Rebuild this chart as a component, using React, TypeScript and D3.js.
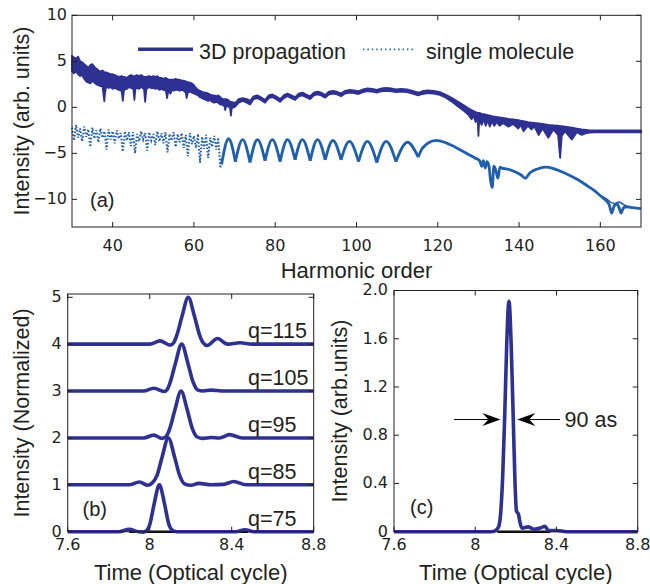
import React from "react";
import * as d3 from "d3";

const W = 650;
const H = 584;
const FONT = "'Liberation Sans', Arial, Helvetica, sans-serif";
const TICKFONT = "'DejaVu Sans', 'Liberation Sans', sans-serif";
const INK = "#231f20";
const DARK = "#2e3192";
const MID = "#1f5fad";

// ---------- Panel (a) data ----------
const aXTicks = [40, 60, 80, 100, 120, 140, 160];
const aYTicks = [-10, -5, 0, 5, 10];

// 3D propagation: [harmonic, upper envelope, lower envelope]
const prop3d: [number, number, number][] = [
  [30, 5.6, 3.9], [30.5, 5.4, 3.7], [31, 5.3, 3.9], [31.5, 5.5, 3.6], [32, 5.0, 3.4],
  [32.5, 4.9, 3.5], [33, 4.7, 3.1], [33.5, 4.5, 2.8], [34, 4.3, 2.7], [34.5, 4.6, 2.6],
  [35, 4.7, 2.9], [35.5, 4.4, 2.7], [36, 4.2, 2.5], [36.5, 4.0, 2.4], [37, 3.9, 2.3],
  [37.5, 4.0, 2.3], [37.8, 3.9, 1.2], [37.95, 3.8, 0.65], [38.1, 3.8, 1.4], [38.4, 3.8, 2.3],
  [39, 3.7, 2.1], [39.5, 3.6, 2.2], [40, 3.6, 2.0], [40.5, 3.5, 2.1], [41, 3.4, 2.0],
  [41.5, 3.3, 1.9], [42.2, 3.4, 1.8], [42.5, 3.3, 0.7], [42.8, 3.3, 1.9], [43.5, 3.2, 2.0],
  [44, 3.4, 2.2], [44.5, 3.5, 2.1], [45.1, 3.4, 2.0], [45.35, 3.4, 0.8], [45.6, 3.4, 2.0],
  [46, 3.5, 2.1], [46.5, 3.4, 2.0], [47, 3.5, 2.2], [47.7, 3.3, 2.0], [48, 3.3, 0.6],
  [48.3, 3.3, 2.0], [49, 3.4, 2.2], [49.5, 3.3, 2.1], [50, 3.4, 2.1], [50.5, 3.3, 2.0],
  [51, 3.4, 2.1], [51.5, 3.2, 1.9], [52, 3.2, 2.0], [52.5, 3.1, 1.9], [53.1, 3.2, 1.8],
  [53.4, 3.1, 1.0], [53.7, 3.0, 1.8], [54.2, 3.0, 1.5], [54.6, 3.0, 1.9], [55, 3.0, 1.8],
  [55.5, 3.1, 1.9], [56, 3.0, 1.9], [56.5, 3.0, 1.8], [57, 2.9, 1.9], [57.5, 2.9, 1.8],
  [58, 2.8, 1.6], [58.2, 2.8, 1.0], [58.5, 2.7, 1.6], [59, 2.7, 1.7], [59.5, 2.6, 1.6],
  [60, 2.4, 1.5], [60.5, 2.1, 1.4], [61, 1.9, 1.3], [61.5, 1.8, 1.1], [62, 1.7, 1.0],
  [62.5, 1.6, 0.9], [63, 1.6, 0.8], [63.5, 1.5, 0.7], [64, 1.4, 0.8], [64.5, 1.3, 0.6],
  [65, 1.3, 0.5], [65.5, 1.2, 0.6], [66, 1.3, 0.5], [66.5, 1.1, 0.3], [67, 0.9, 0.3],
  [67.5, 0.9, 0.1], [67.7, 0.9, -0.3], [67.9, 0.9, 0.1], [68.5, 0.8, 0.1], [68.9, 0.6, -0.1],
  [69.1, 0.6, -0.9], [69.3, 0.6, -0.1], [69.8, 0.5, 0.0], [70.2, 0.5, 0.1], [71, 0.9, 0.5],
  [72, 1.0, 0.7], [73, 0.9, 0.5], [73.8, 0.7, 0.3], [74.7, 1.2, 0.9], [75.6, 1.3, 1.0],
  [76.5, 1.1, 0.8], [77.5, 0.8, 0.5], [78.4, 1.3, 1.0], [79.3, 1.4, 1.1], [80.2, 1.2, 0.9],
  [81.2, 0.9, 0.6], [82.1, 1.3, 1.0], [83, 1.5, 1.2], [84, 1.3, 1.0], [84.9, 1.1, 0.8],
  [85.8, 1.5, 1.2], [86.7, 1.6, 1.3], [87.6, 1.4, 1.1], [88.6, 1.2, 0.9], [89.5, 1.6, 1.3],
  [90.4, 1.7, 1.4], [91.3, 1.6, 1.3], [92.3, 1.35, 1.05], [93.2, 1.7, 1.4], [94.2, 1.8, 1.5],
  [95.2, 1.7, 1.4], [96.2, 1.5, 1.2], [97.2, 1.8, 1.5], [98.3, 1.9, 1.6], [99.4, 1.85, 1.55],
  [100.5, 1.75, 1.45], [101.6, 1.95, 1.65], [102.7, 2.05, 1.75], [103.9, 2.0, 1.7], [105, 1.9, 1.6],
  [106.2, 2.05, 1.75], [107.3, 2.1, 1.8], [108.5, 2.05, 1.75], [109.7, 1.95, 1.65], [111, 2.0, 1.7],
  [112.4, 1.95, 1.65], [113.8, 1.8, 1.5], [115.2, 1.6, 1.3], [116.2, 1.75, 1.45], [117.5, 1.85, 1.55],
  [119, 1.8, 1.5], [120.5, 1.65, 1.35], [122, 1.35, 1.05], [123.5, 1.0, 0.6], [125, 0.6, 0.1],
  [126.5, 0.2, -0.4], [127.5, -0.1, -0.8], [128.3, -0.3, -1.3], [128.8, -0.4, -0.9], [129.3, -0.5, -1.6],
  [129.8, -0.6, -1.3], [130, -0.6, -3.1], [130.2, -0.6, -1.4], [130.8, -0.7, -1.9], [131.3, -0.75, -1.3],
  [131.8, -0.8, -2.0], [132.3, -0.85, -1.4], [132.8, -0.9, -2.1], [133.3, -0.95, -1.5], [133.9, -1.0, -2.0],
  [134.5, -1.05, -1.6], [135.2, -1.1, -2.0], [136, -1.15, -1.7], [137.4, -1.25, -2.1], [138.5, -1.3, -1.8],
  [139.8, -1.4, -2.3], [140.4, -1.45, -1.9], [141.1, -1.5, -2.6], [142.2, -1.6, -2.0], [143, -1.65, -2.4],
  [143.8, -1.7, -2.1], [144.8, -1.75, -3.0], [145.8, -1.8, -2.3], [147.2, -1.9, -3.3], [148.4, -1.95, -2.4],
  [149.6, -2.0, -3.0], [150.1, -2.05, -5.5], [150.5, -2.05, -3.1], [151.3, -2.1, -2.6], [153, -2.2, -3.5],
  [154.2, -2.3, -2.7], [155.4, -2.4, -3.0], [156.5, -2.45, -2.8], [157.5, -2.5, -2.75], [158.7, -2.5, -2.72],
  [160, -2.5, -2.72], [165, -2.5, -2.72], [170, -2.5, -2.72],
];

// single molecule, scattered low-order part
const singleScatter: [number, number][] = [
  [30, -2.2], [30.5, -3.6], [31, -1.9], [31.5, -3.3], [32, -2.3], [32.5, -3.7], [33, -2.1], [33.5, -3.2],
  [34, -2.4], [34.5, -4.3], [35, -2.2], [35.5, -3.4], [36, -2.5], [36.5, -3.8], [37, -2.3], [37.5, -3.3],
  [38, -2.6], [38.5, -4.6], [39, -2.4], [39.5, -3.5], [40, -2.6], [40.5, -3.9], [41, -2.5], [41.5, -3.4],
  [42, -2.8], [42.5, -4.8], [43, -2.6], [43.5, -3.6], [44, -2.7], [44.5, -4.2], [45, -2.7], [45.5, -5.0],
  [46, -2.9], [46.5, -3.7], [47, -2.6], [47.5, -3.5], [48, -2.8], [48.5, -4.7], [49, -2.7], [49.5, -3.6],
  [50, -2.9], [50.5, -4.1], [51, -2.6], [51.5, -3.7], [52, -2.8], [52.5, -3.9], [53, -2.7], [53.5, -4.9],
  [54, -2.9], [54.5, -3.6], [55, -2.7], [55.5, -4.3], [56, -2.9], [56.5, -3.8], [57, -2.8], [57.5, -4.4],
  [58, -3.0], [58.5, -5.3], [59, -2.8], [59.5, -4.0], [60, -3.1], [60.5, -4.4], [61, -2.9], [61.5, -6.0],
  [62, -3.2], [62.5, -4.5], [63, -3.0], [63.5, -5.5], [64, -3.3], [64.5, -4.3], [65, -3.1], [65.5, -4.6],
  [66, -3.3], [66.5, -6.6], [66.8, -5.5],
];

// single molecule arches: cusp, top, cusp, top, ... cusp
const singleArches: [number, number][] = [
  [66.8, -6.2], [68.5, -3.4], [70.2, -5.9], [72, -3.5], [73.8, -6.0], [75.6, -3.5], [77.5, -5.8],
  [79.3, -3.5], [81.2, -5.9], [83, -3.5], [84.9, -5.7], [86.7, -3.5], [88.6, -5.8], [90.4, -3.5],
  [92.3, -5.7], [94.2, -3.6], [96.2, -5.7], [98.3, -3.7], [100.5, -5.9], [102.7, -3.7], [105, -6.0],
  [107.3, -3.7], [109.7, -5.9], [112.4, -3.8], [115.2, -5.4],
];

// single molecule, high-order part
const singleTail: [number, number][] = [
  [115.2, -5.4], [116, -4.6], [117, -4.1], [118.2, -3.75], [119.6, -3.58], [121.7, -3.8], [124.2, -4.3],
  [126.7, -4.9], [129.1, -5.5], [130.3, -5.8], [130.8, -6.4], [131.2, -5.8], [131.7, -6.6], [132.1, -5.9],
  [132.6, -6.4], [133, -8.0], [133.4, -8.7], [133.8, -6.4], [134.3, -6.9], [134.8, -7.7], [135.3, -6.5],
  [135.8, -6.6], [137, -6.7], [139, -7.0], [140.5, -7.35], [141.5, -7.7], [142.7, -7.1], [144.5, -6.7],
  [146.4, -6.5], [148.5, -6.65], [150.5, -7.0], [152.5, -7.4], [154.6, -7.9], [156.7, -8.5], [158.7, -9.1],
  [160, -9.6], [161.2, -10.05], [162.2, -10.6], [162.8, -11.5], [163.4, -10.7], [164.1, -10.5], [164.6, -10.9],
  [165.1, -11.5], [165.7, -10.9], [166.5, -10.8], [168, -10.9], [170, -11.0],
];
const singleLoop: [number, number][] = [
  [160, -9.6], [161.5, -9.95], [162.5, -10.3], [163.5, -10.45], [164.5, -10.3], [165.5, -10.5], [166.5, -10.8],
];

// ---------- Panel (b) data ----------
const bTimeTicks = [7.6, 8, 8.4, 8.8];
const bYTicks = [0, 1, 2, 3, 4, 5];
const pulseOffsets = [0, 1, 2, 3, 4];
const pulseLabels = ["q=75", "q=85", "q=95", "q=105", "q=115"];
const pulse75: [number, number][] = [
  [7.6, 0], [7.85, 0], [7.9, 0.05], [7.945, 0.0], [7.97, -0.01], [7.99, 0.05], [8.0, 0.15], [8.022, 0.6],
  [8.047, 1.0], [8.072, 0.6], [8.094, 0.15], [8.11, 0.03], [8.13, 0], [8.3, 0], [8.42, 0], [8.465, 0.04],
  [8.51, 0], [8.8, 0],
];
const pulse85: [number, number][] = [
  [7.6, 0], [7.9, 0], [7.95, 0.06], [7.99, -0.01], [8.01, 0.03], [8.036, 0.2], [8.061, 0.6], [8.091, 1.0],
  [8.121, 0.6], [8.146, 0.2], [8.17, 0.02], [8.2, -0.01], [8.24, 0.03], [8.3, 0], [8.36, 0.01], [8.41, 0.07],
  [8.47, 0], [8.8, 0],
];
const pulse95: [number, number][] = [
  [7.6, 0], [7.97, 0], [8.02, 0.06], [8.06, -0.01], [8.08, 0.03], [8.098, 0.2], [8.123, 0.6], [8.153, 1.0],
  [8.183, 0.6], [8.208, 0.2], [8.232, 0.02], [8.26, -0.01], [8.3, 0.01], [8.34, 0], [8.39, 0.07], [8.45, 0],
  [8.8, 0],
];
const pulse105: [number, number][] = [
  [7.6, 0], [7.97, 0], [8.02, 0.06], [8.07, -0.01], [8.085, 0.03], [8.101, 0.2], [8.126, 0.6], [8.156, 1.0],
  [8.186, 0.6], [8.211, 0.2], [8.235, 0.02], [8.26, 0], [8.3, 0.02], [8.35, 0], [8.8, 0],
];
const pulse115: [number, number][] = [
  [7.6, 0], [8.0, 0], [8.05, 0.07], [8.1, -0.02], [8.117, 0.03], [8.133, 0.2], [8.158, 0.6], [8.188, 1.0],
  [8.218, 0.6], [8.243, 0.2], [8.262, 0.02], [8.28, -0.03], [8.33, 0.12], [8.38, 0], [8.44, 0.03], [8.5, 0],
  [8.8, 0],
];
const pulses = [pulse75, pulse85, pulse95, pulse105, pulse115];
const bBlackRange = [7.9, 8.48];

// ---------- Panel (c) data ----------
const cYTicks = [0, 0.4, 0.8, 1.2, 1.6, 2.0];
const pulseC: [number, number][] = [
  [7.6, 0], [8.08, 0], [8.1, 0.01], [8.115, 0.04], [8.125, 0.15], [8.135, 0.45], [8.145, 0.95], [8.155, 1.55],
  [8.166, 1.91], [8.177, 1.55], [8.187, 0.95], [8.196, 0.4], [8.203, 0.17], [8.212, 0.15], [8.22, 0.08],
  [8.23, 0.03], [8.26, 0.04], [8.29, 0.02], [8.32, 0.03], [8.343, 0.045], [8.36, 0.01], [8.4, 0.01],
  [8.45, 0], [8.8, 0],
];
const cBlackRange = [8.11, 8.37];
const fwhmY = 0.93;
const fwhmLeftArrow = [7.895, 8.124];
const fwhmRightArrow = [8.417, 8.207];
const fwhmText = "90 as";
const fwhmTextT = 8.44;

// ---------- scales ----------
const xa = d3.scaleLinear().domain([30, 170]).range([72, 641]);
const ya = d3.scaleLinear().domain([-13, 10]).range([227, 15.3]);
const xb = d3.scaleLinear().domain([7.6, 8.8]).range([67.7, 313.7]);
const yb = d3.scaleLinear().domain([0, 5.07]).range([531.7, 294]);
const xc = d3.scaleLinear().domain([7.6, 8.8]).range([394, 637.7]);
const yc = d3.scaleLinear().domain([0, 2]).range([531.7, 290.5]);

const fmtTime = (v: number) => (Math.abs(v - 8) < 1e-9 ? "8" : d3.format(".1f")(v));
const fmtMinus = (v: number) => (v < 0 ? "\u2212" + Math.abs(v) : String(v));

type Sc = d3.ScaleLinear<number, number>;

function Frame(props: {
  x: Sc; y: Sc; xTicks: number[]; yTicks: number[];
  xFmt: (v: number) => string; yFmt: (v: number) => string; xLabelDy: number; yLabelDx?: number;
}) {
  const { x, y, xTicks, yTicks, xFmt, yFmt, xLabelDy } = props;
  const yLabelDx = props.yLabelDx ?? 5;
  const [x0, x1] = x.range();
  const [y0, y1] = y.range();
  const tl = 5;
  return (
    <g>
      <rect x={x0} y={y1} width={x1 - x0} height={y0 - y1} fill="none" stroke={INK} strokeWidth={1} />
      {xTicks.map((t) => (
        <g key={"x" + t}>
          <line x1={x(t)} x2={x(t)} y1={y0} y2={y0 - tl} stroke={INK} />
          <line x1={x(t)} x2={x(t)} y1={y1} y2={y1 + tl} stroke={INK} />
          <text x={x(t)} y={y0 + xLabelDy} textAnchor="middle" fontFamily={TICKFONT} fontSize={16} fill={INK}>
            {xFmt(t)}
          </text>
        </g>
      ))}
      {yTicks.map((t) => (
        <g key={"y" + t}>
          <line x1={x0} x2={x0 + tl} y1={y(t)} y2={y(t)} stroke={INK} />
          <line x1={x1} x2={x1 - tl} y1={y(t)} y2={y(t)} stroke={INK} />
          <text x={x0 - yLabelDx} y={y(t)} dy="0.3em" textAnchor="end" fontFamily={TICKFONT} fontSize={16} fill={INK}>
            {yFmt(t)}
          </text>
        </g>
      ))}
    </g>
  );
}

function ArrowHead({ x, y, dir }: { x: number; y: number; dir: number }) {
  // dir = +1 pointing right, -1 pointing left
  const L = 18, Hh = 6.5, N = 12;
  const pts = [
    [x, y], [x - dir * L, y - Hh], [x - dir * N, y], [x - dir * L, y + Hh],
  ].map((p) => p.join(",")).join(" ");
  return <polygon points={pts} fill="#000" />;
}

export default function App() {
  const band = d3
    .area<[number, number, number]>()
    .x((d) => xa(d[0]))
    .y0((d) => ya(d[2]))
    .y1((d) => ya(d[1]));
  const lineA = d3.line<[number, number]>().x((d) => xa(d[0])).y((d) => ya(d[1]));
  const archLine = d3.line<[number, number]>().x((d) => xa(d[0])).y((d) => ya(d[1])).curve(d3.curveNatural);
  const tailLine = d3.line<[number, number]>().x((d) => xa(d[0])).y((d) => ya(d[1])).curve(d3.curveMonotoneX);

  const arches: [number, number][][] = [];
  for (let i = 0; i + 2 < singleArches.length; i += 2) arches.push(singleArches.slice(i, i + 3));

  const lineB = (off: number) =>
    d3.line<[number, number]>().x((d) => xb(d[0])).y((d) => yb(d[1] + off)).curve(d3.curveMonotoneX);
  const lineC = d3.line<[number, number]>().x((d) => xc(d[0])).y((d) => yc(d[1])).curve(d3.curveMonotoneX);

  return (
    <svg width={W} height={H} style={{ display: "block", position: "absolute", left: 0, top: 0 }} xmlns="http://www.w3.org/2000/svg">
      <rect width={W} height={H} fill="#fff" />

      {/* ---------------- Panel (a) ---------------- */}
      <path d={band(prop3d) || ""} fill={DARK} stroke={DARK} strokeWidth={1.8} strokeLinejoin="round" />
      <path d={lineA(singleScatter) || ""} fill="none" stroke={MID} strokeWidth={2} strokeDasharray="1.6 1.8" />
      {arches.map((a, i) => (
        <path key={i} d={archLine(a) || ""} fill="none" stroke={MID} strokeWidth={2.8} />
      ))}
      <path d={tailLine(singleTail) || ""} fill="none" stroke={MID} strokeWidth={2.8} strokeLinejoin="round" />
      <path d={tailLine(singleLoop) || ""} fill="none" stroke={MID} strokeWidth={1.6} />
      <Frame x={xa} y={ya} xTicks={aXTicks} yTicks={aYTicks} xFmt={(v) => String(v)} yFmt={fmtMinus} xLabelDy={24} />
      {/* legend */}
      <line x1={138} x2={193} y1={49.3} y2={49.3} stroke={DARK} strokeWidth={3.5} />
      <text x={199} y={58.5} fontFamily={FONT} fontSize={21.5} fill={INK}>3D propagation</text>
      <line x1={363} x2={415} y1={49.3} y2={49.3} stroke={MID} strokeWidth={1.8} strokeDasharray="1.4 3" />
      <text x={426} y={58.5} fontFamily={FONT} fontSize={21.5} fill={INK}>single molecule</text>
      <text x={90} y={206.5} fontFamily={FONT} fontSize={20} fill={INK}>(a)</text>
      <text x={356.5} y={278} textAnchor="middle" fontFamily={FONT} fontSize={22} fill={INK}>Harmonic order</text>
      <text transform="translate(29,121) rotate(-90)" textAnchor="middle" fontFamily={FONT} fontSize={21.5} fill={INK}>
        Intensity (arb. units)
      </text>

      {/* ---------------- Panel (b) ---------------- */}
      <line x1={xb(bBlackRange[0])} x2={xb(bBlackRange[1])} y1={yb(0)} y2={yb(0)} stroke="#000" strokeWidth={2.5} />
      {pulses.map((p, i) => (
        <path key={i} d={lineB(pulseOffsets[i])(p) || ""} fill="none" stroke={DARK} strokeWidth={3.6} strokeLinejoin="round" />
      ))}
      <Frame x={xb} y={yb} xTicks={bTimeTicks} yTicks={bYTicks} xFmt={fmtTime} yFmt={(v) => String(v)} xLabelDy={18} yLabelDx={6} />
      {pulseLabels.map((l, i) => (
        <text key={l} x={xb(8.48)} y={yb(pulseOffsets[i] + 0.25) + 6} fontFamily={FONT} fontSize={21.5} fill={INK}>
          {l}
        </text>
      ))}
      <text x={82.5} y={515.5} fontFamily={FONT} fontSize={20} fill={INK}>(b)</text>
      <text x={190.7} y={580} textAnchor="middle" fontFamily={FONT} fontSize={22} fill={INK}>Time (Optical cycle)</text>
      <text transform="translate(29,413) rotate(-90)" textAnchor="middle" fontFamily={FONT} fontSize={21.5} fill={INK}>
        Intensity (Normalized)
      </text>

      {/* ---------------- Panel (c) ---------------- */}
      <line x1={xc(cBlackRange[0])} x2={xc(cBlackRange[1])} y1={yc(0)} y2={yc(0)} stroke="#000" strokeWidth={2.5} />
      <path d={lineC(pulseC) || ""} fill="none" stroke={DARK} strokeWidth={3.6} strokeLinejoin="round" />
      <Frame x={xc} y={yc} xTicks={bTimeTicks} yTicks={cYTicks} xFmt={fmtTime} yFmt={(v) => (v === 0 ? "0" : d3.format(".1f")(v))} xLabelDy={18} yLabelDx={6} />
      <line x1={xc(fwhmLeftArrow[0])} x2={xc(fwhmLeftArrow[1]) - 12} y1={yc(fwhmY)} y2={yc(fwhmY)} stroke="#000" strokeWidth={1} />
      <ArrowHead x={xc(fwhmLeftArrow[1])} y={yc(fwhmY)} dir={1} />
      <line x1={xc(fwhmRightArrow[0])} x2={xc(fwhmRightArrow[1]) + 12} y1={yc(fwhmY)} y2={yc(fwhmY)} stroke="#000" strokeWidth={1} />
      <ArrowHead x={xc(fwhmRightArrow[1])} y={yc(fwhmY)} dir={-1} />
      <text x={xc(fwhmTextT)} y={yc(fwhmY) + 7.5} fontFamily={FONT} fontSize={21.5} fill={INK}>{fwhmText}</text>
      <text x={410} y={514} fontFamily={FONT} fontSize={20} fill={INK}>(c)</text>
      <text x={515.8} y={580} textAnchor="middle" fontFamily={FONT} fontSize={22} fill={INK}>Time (Optical cycle)</text>
      <text transform="translate(347,411) rotate(-90)" textAnchor="middle" fontFamily={FONT} fontSize={21.5} fill={INK}>
        Intensity (arb.units)
      </text>
    </svg>
  );
}
